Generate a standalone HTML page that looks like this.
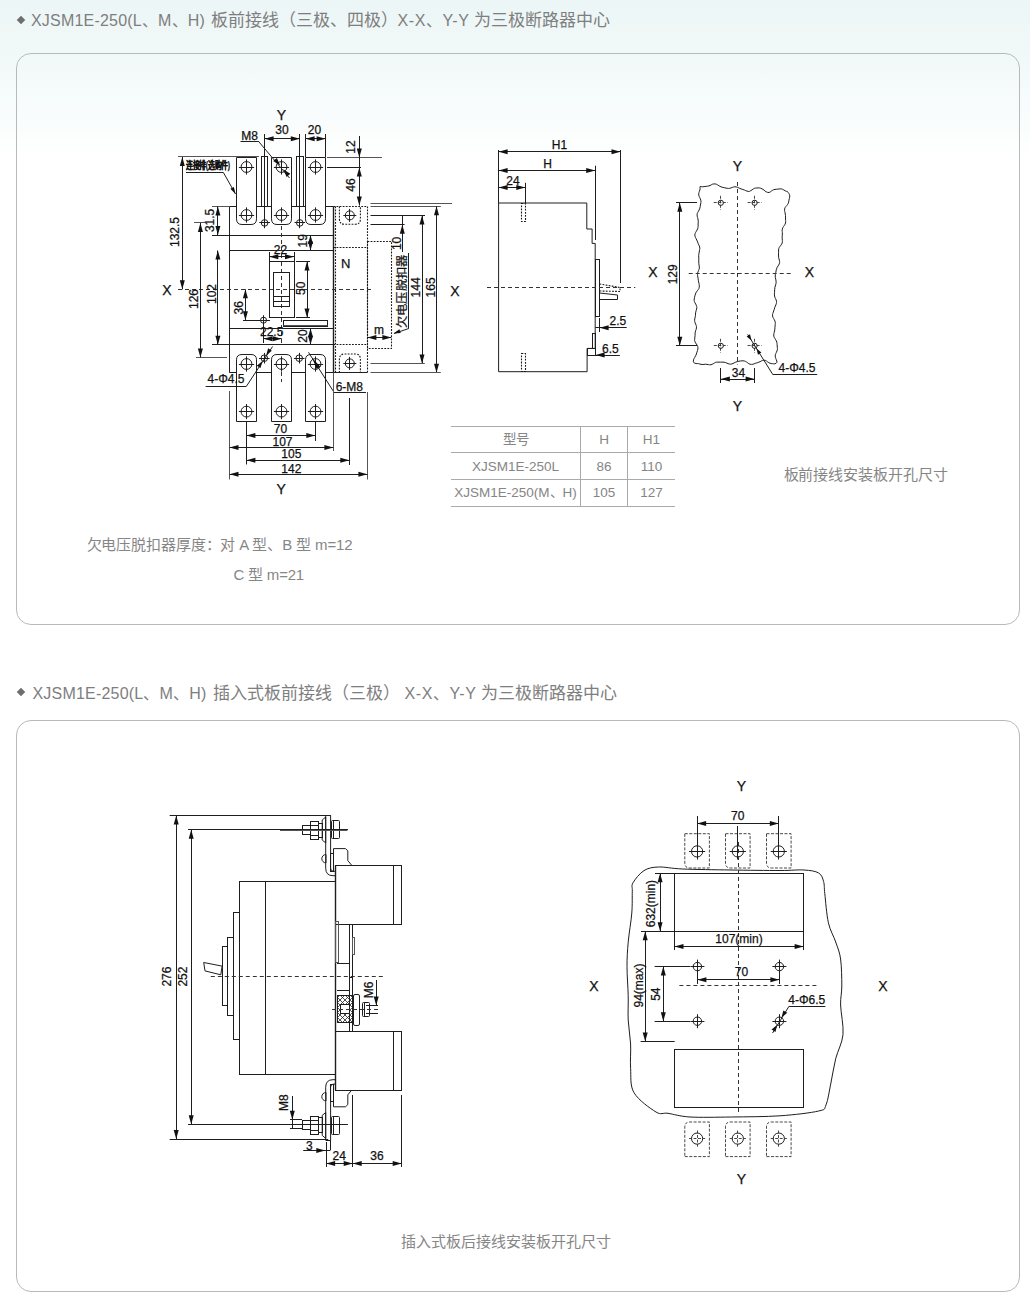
<!DOCTYPE html>
<html lang="zh-CN">
<head>
<meta charset="utf-8">
<title>XJSM1E-250 外形及安装尺寸</title>
<style>
html,body{margin:0;padding:0;}
body{width:1030px;height:1303px;position:relative;overflow:hidden;
  font-family:"Liberation Sans",sans-serif;color:#6a6a6a;
  background:linear-gradient(to bottom,#ecf6f6 0px,#f1f8f8 50px,#f6fbfb 95px,#fbfdfd 130px,#fff 160px);}
.h{position:absolute;left:31px;font-size:16px;line-height:20px;white-space:nowrap;color:#7e7e7e;font-weight:300;}
.h.c{font-size:17px;}
.dia{position:absolute;width:6px;height:6px;background:#6e6e6e;transform:rotate(45deg);}
.box{position:absolute;left:16px;width:1002px;height:570px;border:1px solid #b9b9b9;border-radius:15px;}
.cap{position:absolute;white-space:nowrap;font-size:15px;line-height:18px;color:#868686;font-weight:300;}
table{position:absolute;left:451px;top:425.8px;width:224px;border-collapse:collapse;font-size:13.5px;color:#858585;font-weight:300;}
td{border-top:1.5px solid #aaa;border-bottom:1.5px solid #aaa;height:24.6px;padding:1px 0 0 0;text-align:center;line-height:24px;}
td+td{border-left:1px solid #a9a9a9;}
svg{position:absolute;left:0;top:0;}
</style>
</head>
<body>
<div class="dia" style="left:18px;top:17px"></div>
<div class="h" style="top:11px;left:31px;letter-spacing:0.2px">XJSM1E-250(L、M、H)</div><div class="h c" style="top:11px;left:211px">板前接线（三极、四极）</div><div class="h" style="top:11px;left:397.5px;letter-spacing:0.6px">X-X、Y-Y</div><div class="h c" style="top:11px;left:474px">为三极断路器中心</div>
<div class="box" style="top:53px"></div>

<table>
<tr><td style="width:129px">型号</td><td style="width:46px">H</td><td>H1</td></tr>
<tr><td>XJSM1E-250L</td><td>86</td><td>110</td></tr>
<tr><td>XJSM1E-250(M、H)</td><td>105</td><td>127</td></tr>
</table>
<div class="cap" style="left:783.5px;top:466.2px;letter-spacing:-0.05px">板前接线安装板开孔尺寸</div>
<div class="cap" style="left:86.5px;top:536px;letter-spacing:-0.12px">欠电压脱扣器厚度：对 A 型、B 型 m=12</div>
<div class="cap" style="left:233.5px;top:566px;letter-spacing:-0.2px">C 型 m=21</div>

<div class="dia" style="left:18px;top:689px"></div>
<div class="h" style="top:683.5px;left:32.5px;letter-spacing:0.2px">XJSM1E-250(L、M、H)</div><div class="h c" style="top:683.5px;left:212.5px">插入式板前接线（三极）</div><div class="h" style="top:683.5px;left:404.5px;letter-spacing:0.6px">X-X、Y-Y</div><div class="h c" style="top:683.5px;left:481px">为三极断路器中心</div>
<div class="box" style="top:720px"></div>
<div class="cap" style="left:400.5px;top:1232.8px">插入式板后接线安装板开孔尺寸</div>

<svg width="1030" height="1303" viewBox="0 0 1030 1303">
<style>.s{stroke:#1e1e1e;stroke-width:1;fill:none}.w{fill:#fff}.g{stroke:#555}.b{stroke-width:1.4}.d{stroke:#333;stroke-width:1;fill:none;stroke-dasharray:4 3}.dd{stroke:#333;stroke-width:0.9;fill:none;stroke-dasharray:3 1.5}.dt{stroke:#1a1a1a;stroke-width:1.1;fill:none;stroke-dasharray:1.8 1.3}.a{fill:#111;stroke:none}.t{fill:#111;stroke:#111;stroke-width:0.25;font-family:"Liberation Sans",sans-serif}</style>
<defs><pattern id="hatch" width="5" height="5" patternUnits="userSpaceOnUse"><path d="M0,0 L5,5 M5,0 L0,5" stroke="#222" stroke-width="0.8"/></pattern><clipPath id="hc"><rect x="337.5" y="995.7" width="15.2" height="26.5"/></clipPath></defs>
<text class="t" x="281.4" y="119.64" text-anchor="middle" font-size="14">Y</text>
<text class="t" x="281.2" y="493.54" text-anchor="middle" font-size="14">Y</text>
<text class="t" x="166.8" y="294.54" text-anchor="middle" font-size="14">X</text>
<text class="t" x="455" y="296.24" text-anchor="middle" font-size="14">X</text>
<line class="s g" x1="178" y1="156.5" x2="259" y2="156.5"/>
<line class="s g" x1="327" y1="157.5" x2="382" y2="157.5"/>
<line class="s" x1="327" y1="167.5" x2="361" y2="167.5"/>
<line class="s" x1="229.5" y1="206.5" x2="333.4" y2="206.5"/>
<line class="s" x1="229.5" y1="206.4" x2="229.5" y2="372.7"/>
<line class="s b" x1="333.5" y1="206.4" x2="333.5" y2="372.7"/>
<line class="s g" x1="212" y1="206.5" x2="229.5" y2="206.5"/>
<line class="s" x1="212" y1="235.5" x2="333.4" y2="235.5"/>
<line class="s" x1="229.5" y1="250.5" x2="333.4" y2="250.5"/>
<line class="s" x1="229.5" y1="328.5" x2="333.4" y2="328.5"/>
<line class="s" x1="212" y1="344.5" x2="333.4" y2="344.5"/>
<line class="s" x1="229.5" y1="372.5" x2="333.4" y2="372.5"/>
<line class="dt" x1="333.4" y1="206.5" x2="367.4" y2="206.5"/>
<line class="dt" x1="335.5" y1="206.4" x2="335.5" y2="372.7"/>
<line class="dt" x1="367.5" y1="206.4" x2="367.5" y2="372.7"/>
<line class="dt" x1="333.4" y1="247.5" x2="367.4" y2="247.5"/>
<line class="dt" x1="333.4" y1="344.5" x2="367.4" y2="344.5"/>
<line class="s" x1="333.4" y1="372.5" x2="367.4" y2="372.5"/>
<path class="dt" d="M339.4,206.4 V219 Q339.4,224.3 344.7,224.3 H355.1 Q360.4,224.3 360.4,219 V206.4"/>
<circle class="s" cx="349.8" cy="215.4" r="4.5"/>
<line class="s" x1="343.3" y1="215.5" x2="356.3" y2="215.5"/>
<line class="s" x1="349.5" y1="208.9" x2="349.5" y2="221.9"/>
<path class="dt" d="M339.4,372.7 V359.3 Q339.4,354 344.7,354 H355.1 Q360.4,354 360.4,359.3 V372.7"/>
<circle class="s" cx="349.8" cy="363.4" r="4.5"/>
<line class="s" x1="343.3" y1="363.5" x2="356.3" y2="363.5"/>
<line class="s" x1="349.5" y1="356.9" x2="349.5" y2="369.9"/>
<text class="t" x="345.6" y="267.68" text-anchor="middle" font-size="13">N</text>
<rect class="dt" x="367.5" y="241.5" width="24" height="107"/>
<path class="s w" d="M236.5,157.5 V218.8 Q236.5,224.5 242.0,224.5 H251.0 Q256.5,224.5 256.5,218.8 V157.5 Z"/>
<circle class="s" cx="246.5" cy="167" r="5.4"/>
<line class="s" x1="238.9" y1="167.5" x2="254.1" y2="167.5"/>
<line class="s" x1="246.5" y1="159.4" x2="246.5" y2="174.6"/>
<circle class="s" cx="246.5" cy="215" r="5.4"/>
<line class="s" x1="238.9" y1="215.5" x2="254.1" y2="215.5"/>
<line class="s" x1="246.5" y1="207.4" x2="246.5" y2="222.6"/>
<path class="s w" d="M271.5,157.5 V218.8 Q271.5,224.5 277.0,224.5 H286.0 Q291.5,224.5 291.5,218.8 V157.5 Z"/>
<circle class="s" cx="281.5" cy="167" r="5.4"/>
<line class="s" x1="273.9" y1="167.5" x2="289.1" y2="167.5"/>
<line class="s" x1="281.5" y1="159.4" x2="281.5" y2="174.6"/>
<circle class="s" cx="281.5" cy="215" r="5.4"/>
<line class="s" x1="273.9" y1="215.5" x2="289.1" y2="215.5"/>
<line class="s" x1="281.5" y1="207.4" x2="281.5" y2="222.6"/>
<path class="s w" d="M305.5,157.5 V218.8 Q305.5,224.5 311.0,224.5 H320.0 Q325.5,224.5 325.5,218.8 V157.5 Z"/>
<circle class="s" cx="315.5" cy="167" r="5.4"/>
<line class="s" x1="307.9" y1="167.5" x2="323.1" y2="167.5"/>
<line class="s" x1="315.5" y1="159.4" x2="315.5" y2="174.6"/>
<circle class="s" cx="315.5" cy="215" r="5.4"/>
<line class="s" x1="307.9" y1="215.5" x2="323.1" y2="215.5"/>
<line class="s" x1="315.5" y1="207.4" x2="315.5" y2="222.6"/>
<rect class="s w" x="261.5" y="156.5" width="6" height="50"/>
<line class="s" x1="264.5" y1="136" x2="264.5" y2="206.4"/>
<line class="s" x1="264.5" y1="206.4" x2="264.5" y2="219"/>
<circle class="s" cx="264.6" cy="222.9" r="3.3"/>
<line class="s" x1="259.3" y1="222.5" x2="269.9" y2="222.5"/>
<line class="s" x1="264.5" y1="217.6" x2="264.5" y2="228.2"/>
<rect class="s w" x="296.5" y="156.5" width="7" height="50"/>
<line class="s" x1="299.5" y1="136" x2="299.5" y2="206.4"/>
<line class="s" x1="299.5" y1="206.4" x2="299.5" y2="219"/>
<circle class="s" cx="299.8" cy="222.9" r="3.3"/>
<line class="s" x1="294.5" y1="222.5" x2="305.1" y2="222.5"/>
<line class="s" x1="299.5" y1="217.6" x2="299.5" y2="228.2"/>
<path class="s w" d="M236.5,421.5 V359.8 Q236.5,354.5 242.0,354.5 H251.0 Q256.5,354.5 256.5,359.8 V421.5 Z"/>
<circle class="s" cx="246.5" cy="364" r="5.4"/>
<line class="s" x1="238.9" y1="364.5" x2="254.1" y2="364.5"/>
<line class="s" x1="246.5" y1="356.4" x2="246.5" y2="371.6"/>
<circle class="s" cx="246.5" cy="411.6" r="5.4"/>
<line class="s" x1="238.9" y1="411.5" x2="254.1" y2="411.5"/>
<line class="s" x1="246.5" y1="404" x2="246.5" y2="419.2"/>
<path class="s w" d="M271.5,421.5 V359.8 Q271.5,354.5 277.0,354.5 H286.0 Q291.5,354.5 291.5,359.8 V421.5 Z"/>
<circle class="s" cx="281.5" cy="364" r="5.4"/>
<line class="s" x1="273.9" y1="364.5" x2="289.1" y2="364.5"/>
<line class="s" x1="281.5" y1="356.4" x2="281.5" y2="371.6"/>
<circle class="s" cx="281.5" cy="411.6" r="5.4"/>
<line class="s" x1="273.9" y1="411.5" x2="289.1" y2="411.5"/>
<line class="s" x1="281.5" y1="404" x2="281.5" y2="419.2"/>
<path class="s w" d="M305.5,421.5 V359.8 Q305.5,354.5 311.0,354.5 H320.0 Q325.5,354.5 325.5,359.8 V421.5 Z"/>
<circle class="s" cx="315.5" cy="364" r="5.4"/>
<line class="s" x1="307.9" y1="364.5" x2="323.1" y2="364.5"/>
<line class="s" x1="315.5" y1="356.4" x2="315.5" y2="371.6"/>
<circle class="s" cx="315.5" cy="411.6" r="5.4"/>
<line class="s" x1="307.9" y1="411.5" x2="323.1" y2="411.5"/>
<line class="s" x1="315.5" y1="404" x2="315.5" y2="419.2"/>
<circle class="s" cx="264.3" cy="358.2" r="3.3"/>
<line class="s" x1="259" y1="358.5" x2="269.6" y2="358.5"/>
<line class="s" x1="264.5" y1="352.9" x2="264.5" y2="363.5"/>
<circle class="s" cx="299.2" cy="358.2" r="3.3"/>
<line class="s" x1="293.9" y1="358.5" x2="304.5" y2="358.5"/>
<line class="s" x1="299.5" y1="352.9" x2="299.5" y2="363.5"/>
<line class="d" x1="178" y1="289.5" x2="373" y2="289.5"/>
<line class="d" x1="281.5" y1="226" x2="281.5" y2="262"/>
<line class="d" x1="281.5" y1="262" x2="281.5" y2="345"/>
<line class="d" x1="281.5" y1="372" x2="281.5" y2="382"/>
<rect class="s" x="269.5" y="261.5" width="25" height="56"/>
<rect class="s" x="273.5" y="272.5" width="16" height="34"/>
<line class="s" x1="273.6" y1="296.5" x2="289.7" y2="296.5"/>
<line class="s" x1="273.6" y1="301.5" x2="289.7" y2="301.5"/>
<rect class="s" x="283.5" y="320.5" width="44" height="6"/>
<line class="s g" x1="283.3" y1="325.5" x2="327.4" y2="325.5"/>
<circle class="s" cx="263.5" cy="320.2" r="3"/>
<line class="s" x1="258.5" y1="320.5" x2="268.5" y2="320.5"/>
<line class="s" x1="263.5" y1="315.2" x2="263.5" y2="325.2"/>
<line class="s" x1="182.5" y1="157" x2="182.5" y2="289.3"/>
<polygon class="a" points="182.3,157 184.8,166 179.8,166"/>
<polygon class="a" points="182.3,289.3 179.8,280.3 184.8,280.3"/>
<text class="t" transform="translate(174.8,232) rotate(-90)" x="0" y="4.32" text-anchor="middle" font-size="12">132.5</text>
<line class="s g" x1="194" y1="222.5" x2="205" y2="222.5"/>
<line class="s g" x1="196" y1="357.5" x2="227" y2="357.5"/>
<line class="s" x1="200.5" y1="222.9" x2="200.5" y2="357.5"/>
<polygon class="a" points="200.4,222.9 202.9,231.9 197.9,231.9"/>
<polygon class="a" points="200.4,357.5 197.9,348.5 202.9,348.5"/>
<text class="t" transform="translate(194,299) rotate(-90)" x="0" y="4.32" text-anchor="middle" font-size="12">126</text>
<line class="s" x1="217.5" y1="250.5" x2="217.5" y2="344.7"/>
<polygon class="a" points="217.9,250.5 220.4,259.5 215.4,259.5"/>
<polygon class="a" points="217.9,344.7 215.4,335.7 220.4,335.7"/>
<text class="t" transform="translate(212,294) rotate(-90)" x="0" y="4.32" text-anchor="middle" font-size="12">102</text>
<line class="s" x1="217.5" y1="206.4" x2="217.5" y2="235"/>
<polygon class="a" points="217.9,206.4 220.4,215.4 215.4,215.4"/>
<polygon class="a" points="217.9,235 215.4,226 220.4,226"/>
<text class="t" transform="translate(210,220.4) rotate(-90)" x="0" y="4.32" text-anchor="middle" font-size="12">31.5</text>
<line class="s" x1="245.5" y1="289.3" x2="245.5" y2="320.2"/>
<polygon class="a" points="245.4,289.3 247.9,298.3 242.9,298.3"/>
<polygon class="a" points="245.4,320.2 242.9,311.2 247.9,311.2"/>
<line class="s" x1="243" y1="320.5" x2="270" y2="320.5"/>
<text class="t" transform="translate(239,307.8) rotate(-90)" x="0" y="4.32" text-anchor="middle" font-size="12">36</text>
<line class="s" x1="269.5" y1="252" x2="269.5" y2="261.6"/>
<line class="s" x1="294.5" y1="252" x2="294.5" y2="261.6"/>
<line class="s" x1="269.3" y1="256.5" x2="294" y2="256.5"/>
<polygon class="a" points="269.3,256.7 278.3,254.2 278.3,259.2"/>
<polygon class="a" points="294,256.7 285,259.2 285,254.2"/>
<text class="t" x="280.4" y="253.82" text-anchor="middle" font-size="12">22</text>
<line class="s" x1="296" y1="261.5" x2="310" y2="261.5"/>
<line class="s" x1="296" y1="317.5" x2="310" y2="317.5"/>
<line class="s" x1="307.5" y1="261.6" x2="307.5" y2="317.5"/>
<polygon class="a" points="307,261.6 309.5,270.6 304.5,270.6"/>
<polygon class="a" points="307,317.5 304.5,308.5 309.5,308.5"/>
<text class="t" transform="translate(300.8,288.3) rotate(-90)" x="0" y="4.32" text-anchor="middle" font-size="12">50</text>
<line class="s" x1="310.5" y1="235" x2="310.5" y2="250.5"/>
<polygon class="a" points="310.5,235 313,244 308,244"/>
<polygon class="a" points="310.5,250.5 308,241.5 313,241.5"/>
<text class="t" transform="translate(302.7,240.8) rotate(-90)" x="0" y="4.32" text-anchor="middle" font-size="12">19</text>
<line class="s" x1="310.5" y1="328.2" x2="310.5" y2="344.7"/>
<polygon class="a" points="310.5,328.2 313,337.2 308,337.2"/>
<polygon class="a" points="310.5,344.7 308,335.7 313,335.7"/>
<text class="t" transform="translate(302.7,336) rotate(-90)" x="0" y="4.32" text-anchor="middle" font-size="12">20</text>
<line class="s" x1="263.5" y1="322" x2="263.5" y2="343"/>
<line class="s" x1="263.5" y1="338.5" x2="281.7" y2="338.5"/>
<polygon class="a" points="263.5,338.8 272.5,336.3 272.5,341.3"/>
<polygon class="a" points="281.7,338.8 272.7,341.3 272.7,336.3"/>
<text class="t" x="271.7" y="336.32" text-anchor="middle" font-size="12">22.5</text>
<line class="s" x1="264.5" y1="134" x2="264.5" y2="157"/>
<line class="s" x1="299.5" y1="134" x2="299.5" y2="157"/>
<line class="s" x1="264.6" y1="138.5" x2="299.8" y2="138.5"/>
<polygon class="a" points="264.6,138.8 273.6,136.3 273.6,141.3"/>
<polygon class="a" points="299.8,138.8 290.8,141.3 290.8,136.3"/>
<text class="t" x="282" y="134.32" text-anchor="middle" font-size="12">30</text>
<line class="s" x1="305.5" y1="134" x2="305.5" y2="157"/>
<line class="s" x1="325.5" y1="134" x2="325.5" y2="157"/>
<line class="s" x1="305.6" y1="138.5" x2="325.6" y2="138.5"/>
<polygon class="a" points="305.6,138.8 314.6,136.3 314.6,141.3"/>
<polygon class="a" points="325.6,138.8 316.6,141.3 316.6,136.3"/>
<text class="t" x="314.4" y="134.32" text-anchor="middle" font-size="12">20</text>
<text class="t" x="249.5" y="140.32" text-anchor="middle" font-size="12">M8</text>
<line class="s" x1="240.5" y1="141.5" x2="258.2" y2="141.5"/>
<text class="t" x="208" y="168.58" text-anchor="middle" font-size="10.5" font-weight="bold" textLength="44" lengthAdjust="spacingAndGlyphs">连接排(选购件)</text>
<line class="s" x1="186" y1="172.5" x2="223.4" y2="172.5"/>
<line class="s" x1="223.4" y1="172.5" x2="235.5" y2="194"/>
<polygon class="a" points="235.5,194 230.36,188.85 233.86,186.91"/>
<line class="s" x1="359.5" y1="136" x2="359.5" y2="167.5"/>
<polygon class="a" points="359.3,157.5 356.8,148.5 361.8,148.5"/>
<text class="t" transform="translate(351,147) rotate(-90)" x="0" y="4.32" text-anchor="middle" font-size="12">12</text>
<line class="s" x1="359.5" y1="167.5" x2="359.5" y2="205.5"/>
<polygon class="a" points="359.3,167.5 361.8,176.5 356.8,176.5"/>
<polygon class="a" points="359.3,205.5 356.8,196.5 361.8,196.5"/>
<text class="t" transform="translate(351,185) rotate(-90)" x="0" y="4.32" text-anchor="middle" font-size="12">46</text>
<line class="s g" x1="370.5" y1="203.5" x2="452" y2="203.5"/>
<line class="s g" x1="370.5" y1="206.5" x2="440.8" y2="206.5"/>
<line class="s" x1="370.5" y1="215.5" x2="425" y2="215.5"/>
<line class="s" x1="370.5" y1="224.5" x2="404.6" y2="224.5"/>
<line class="s" x1="402.5" y1="224.3" x2="402.5" y2="252"/>
<line class="s" x1="402.5" y1="215.4" x2="402.5" y2="224.3"/>
<polygon class="a" points="402.3,224.8 404.8,233.8 399.8,233.8"/>
<text class="t" transform="translate(396.9,243.4) rotate(-90)" x="0" y="4.32" text-anchor="middle" font-size="12">10</text>
<line class="s" x1="422.5" y1="215.4" x2="422.5" y2="363.4"/>
<polygon class="a" points="422,215.4 424.5,224.4 419.5,224.4"/>
<polygon class="a" points="422,363.4 419.5,354.4 424.5,354.4"/>
<text class="t" transform="translate(415.5,287.4) rotate(-90)" x="0" y="4.32" text-anchor="middle" font-size="12">144</text>
<line class="s" x1="436.5" y1="206.2" x2="436.5" y2="372.8"/>
<polygon class="a" points="436.5,206.2 439,215.2 434,215.2"/>
<polygon class="a" points="436.5,372.8 434,363.8 439,363.8"/>
<text class="t" transform="translate(431,287.4) rotate(-90)" x="0" y="4.32" text-anchor="middle" font-size="12">165</text>
<line class="s g" x1="370.5" y1="363.5" x2="424.8" y2="363.5"/>
<line class="s g" x1="370.5" y1="372.5" x2="440.8" y2="372.5"/>
<line class="s" x1="367.4" y1="337.5" x2="391.4" y2="337.5"/>
<polygon class="a" points="367.4,337.5 376.4,335 376.4,340"/>
<polygon class="a" points="391.4,337.5 382.4,340 382.4,335"/>
<text class="t" x="379" y="334.32" text-anchor="middle" font-size="12">m</text>
<text class="t" transform="translate(402.3,291.2) rotate(-90)" x="0" y="3.96" text-anchor="middle" font-size="11" textLength="74" lengthAdjust="spacingAndGlyphs">欠电压脱扣器</text>
<line class="s" x1="408.5" y1="253" x2="408.5" y2="328.5"/>
<line class="s" x1="408.8" y1="328.5" x2="394" y2="333.5"/>
<polygon class="a" points="393.5,333.6 399.39,329.33 400.76,333.09"/>
<text class="t" x="226" y="383.12" text-anchor="middle" font-size="12">4-Φ4.5</text>
<line class="s" x1="205.6" y1="386.5" x2="246.4" y2="386.5"/>
<line class="s" x1="246.4" y1="386.3" x2="272.6" y2="346.5"/>
<polygon class="a" points="266.1,355.4 268.12,348.35 271.79,350.77"/>
<polygon class="a" points="262.5,361 260.48,368.05 256.81,365.63"/>
<text class="t" x="335.7" y="390.92" text-anchor="start" font-size="12">6-M8</text>
<line class="s" x1="334" y1="392.5" x2="366" y2="392.5"/>
<line class="s" x1="334" y1="392.3" x2="308.5" y2="352.3"/>
<polygon class="a" points="312.5,358.5 320.29,366.57 316.59,368.95"/>
<line class="s g" x1="229.5" y1="391" x2="229.5" y2="479.5"/>
<line class="s" x1="246.5" y1="421.3" x2="246.5" y2="464.5"/>
<line class="s" x1="315.5" y1="421.3" x2="315.5" y2="441"/>
<line class="s g" x1="333.5" y1="372.7" x2="333.5" y2="451"/>
<line class="s" x1="349.5" y1="398" x2="349.5" y2="465"/>
<line class="s g" x1="367.5" y1="392" x2="367.5" y2="479.5"/>
<line class="s" x1="246.4" y1="435.5" x2="315.3" y2="435.5"/>
<polygon class="a" points="246.4,435.6 255.4,433.1 255.4,438.1"/>
<polygon class="a" points="315.3,435.6 306.3,438.1 306.3,433.1"/>
<text class="t" x="280.4" y="433.32" text-anchor="middle" font-size="12">70</text>
<line class="s" x1="229.5" y1="447.5" x2="333.4" y2="447.5"/>
<polygon class="a" points="229.5,447.6 238.5,445.1 238.5,450.1"/>
<polygon class="a" points="333.4,447.6 324.4,450.1 324.4,445.1"/>
<text class="t" x="282.5" y="446.02" text-anchor="middle" font-size="12">107</text>
<line class="s" x1="246.4" y1="460.5" x2="349.3" y2="460.5"/>
<polygon class="a" points="246.4,460.2 255.4,457.7 255.4,462.7"/>
<polygon class="a" points="349.3,460.2 340.3,462.7 340.3,457.7"/>
<text class="t" x="291.3" y="458.32" text-anchor="middle" font-size="12">105</text>
<line class="s" x1="229.5" y1="474.5" x2="367.4" y2="474.5"/>
<polygon class="a" points="229.5,474.2 238.5,471.7 238.5,476.7"/>
<polygon class="a" points="367.4,474.2 358.4,476.7 358.4,471.7"/>
<text class="t" x="291.3" y="472.82" text-anchor="middle" font-size="12">142</text>
<line class="s" x1="258.2" y1="141" x2="289.5" y2="178"/>
<polygon class="a" points="280.2,165.6 273.21,161.03 276.88,157.93"/>
<polygon class="a" points="283.3,169.3 290.29,173.87 286.62,176.97"/>
<path class="s" d="M498.6,203 H586.8 V229 H592.1 V243.4 H595.2 V348.4 H587.1 V371.7 H498.6 Z"/>
<rect class="s" x="587.5" y="348.5" width="8" height="7"/>
<rect class="s" x="592.5" y="333.5" width="3" height="15"/>
<rect class="s" x="595.5" y="259.5" width="4" height="57"/>
<path class="dt" d="M599.5,284 L620,287.5 L620,291.5 L599.5,291"/>
<path class="s" d="M599.5,293 L617.5,295 L617.5,299.5 L599.5,299.5"/>
<rect class="dt" x="521.5" y="203.5" width="4" height="18"/>
<rect class="dt" x="521.5" y="353.5" width="4" height="18"/>
<line class="d" x1="487" y1="287.5" x2="635.3" y2="287.5"/>
<line class="s" x1="498.5" y1="150" x2="498.5" y2="203"/>
<line class="s" x1="620.5" y1="150" x2="620.5" y2="283"/>
<line class="s" x1="498.6" y1="151.5" x2="620.5" y2="151.5"/>
<polygon class="a" points="498.6,151.7 507.6,149.2 507.6,154.2"/>
<polygon class="a" points="620.5,151.7 611.5,154.2 611.5,149.2"/>
<text class="t" x="559.5" y="149.32" text-anchor="middle" font-size="12">H1</text>
<line class="s" x1="595.5" y1="165.7" x2="595.5" y2="240"/>
<line class="s" x1="498.6" y1="170.5" x2="595.2" y2="170.5"/>
<polygon class="a" points="498.6,170.4 507.6,167.9 507.6,172.9"/>
<polygon class="a" points="595.2,170.4 586.2,172.9 586.2,167.9"/>
<text class="t" x="547.5" y="167.72" text-anchor="middle" font-size="12">H</text>
<line class="s" x1="525.5" y1="182.8" x2="525.5" y2="203"/>
<line class="s" x1="498.6" y1="187.5" x2="525.3" y2="187.5"/>
<polygon class="a" points="498.6,187.5 507.6,185 507.6,190"/>
<polygon class="a" points="525.3,187.5 516.3,190 516.3,185"/>
<text class="t" x="513" y="184.82" text-anchor="middle" font-size="12">24</text>
<line class="s" x1="599.5" y1="318" x2="599.5" y2="332"/>
<line class="s" x1="595.2" y1="327.5" x2="626.7" y2="327.5"/>
<polygon class="a" points="599.6,327.8 608.6,325.3 608.6,330.3"/>
<text class="t" x="617.9" y="325.32" text-anchor="middle" font-size="12">2.5</text>
<line class="s" x1="595.2" y1="355.5" x2="619.8" y2="355.5"/>
<polygon class="a" points="595.6,355.1 604.6,352.6 604.6,357.6"/>
<text class="t" x="610.4" y="352.72" text-anchor="middle" font-size="12">6.5</text>
<text class="t" x="737.4" y="170.54" text-anchor="middle" font-size="14">Y</text>
<text class="t" x="737.4" y="411.04" text-anchor="middle" font-size="14">Y</text>
<text class="t" x="652.8" y="277.34" text-anchor="middle" font-size="14">X</text>
<text class="t" x="809.5" y="277.34" text-anchor="middle" font-size="14">X</text>
<path class="s" d="M700.04,186.62 C700.45,186.29 701.75,186.85 702.59,186.83 C703.43,186.8 704.25,186.58 705.08,186.47 C705.91,186.37 706.75,186.34 707.57,186.19 C708.4,186.04 709.22,185.9 710.03,185.58 C710.83,185.25 711.53,184.5 712.39,184.22 C713.25,183.94 714.34,183.81 715.2,183.91 C716.06,184.01 716.8,184.44 717.57,184.84 C718.35,185.24 719.07,185.91 719.84,186.31 C720.61,186.72 721.39,187.04 722.2,187.28 C723.02,187.53 723.89,187.61 724.72,187.79 C725.56,187.96 726.36,188.25 727.19,188.34 C728.02,188.43 728.86,188.49 729.72,188.33 C730.57,188.18 731.46,187.68 732.33,187.42 C733.19,187.15 734.07,186.77 734.91,186.75 C735.75,186.73 736.57,186.99 737.38,187.28 C738.2,187.56 739,188.12 739.8,188.45 C740.61,188.79 741.41,189 742.21,189.27 C743.01,189.55 743.82,189.8 744.61,190.1 C745.41,190.41 746.18,190.9 746.99,191.11 C747.8,191.32 748.64,191.6 749.49,191.38 C750.34,191.15 751.28,190.27 752.09,189.77 C752.9,189.26 753.57,188.64 754.36,188.34 C755.15,188.04 756.01,188.04 756.85,187.97 C757.69,187.91 758.55,187.82 759.4,187.95 C760.26,188.08 761.18,188.36 761.96,188.73 C762.74,189.1 763.4,189.65 764.1,190.17 C764.8,190.69 765.31,191.45 766.16,191.84 C767,192.23 768.27,192.65 769.15,192.5 C770.04,192.36 770.68,191.46 771.45,190.99 C772.22,190.52 772.98,189.98 773.78,189.69 C774.58,189.4 775.43,189.37 776.26,189.26 C777.09,189.15 777.9,189.09 778.76,189.03 C779.62,188.97 780.59,188.74 781.43,188.9 C782.27,189.06 783.03,189.56 783.82,189.97 C784.61,190.38 785.61,191.11 786.16,191.34 C786.72,191.58 786.71,191.04 787.17,191.4 C787.63,191.75 788.47,192.71 788.91,193.46 C789.35,194.22 789.73,195.09 789.8,195.91 C789.87,196.73 789.5,197.56 789.34,198.38 C789.18,199.2 789.03,200.03 788.85,200.85 C788.67,201.66 788.59,202.51 788.25,203.29 C787.91,204.06 787.36,204.78 786.83,205.51 C786.3,206.23 785.43,206.84 785.05,207.64 C784.67,208.43 784.55,209.41 784.55,210.28 C784.56,211.14 784.94,212 785.09,212.86 C785.25,213.71 785.42,214.57 785.49,215.42 C785.56,216.27 785.49,217.1 785.51,217.95 C785.54,218.8 785.64,219.67 785.64,220.52 C785.64,221.36 785.74,222.22 785.52,223.03 C785.31,223.85 784.81,224.62 784.35,225.4 C783.9,226.19 783.15,226.93 782.79,227.72 C782.42,228.52 782.22,229.33 782.15,230.17 C782.08,231 782.35,231.89 782.37,232.73 C782.4,233.58 782.35,234.4 782.31,235.24 C782.27,236.08 782.14,236.91 782.15,237.77 C782.15,238.63 782.34,239.52 782.35,240.38 C782.36,241.24 782.46,242.11 782.22,242.92 C781.98,243.72 781.42,244.45 780.92,245.21 C780.42,245.97 779.6,246.69 779.21,247.48 C778.82,248.26 778.67,249.1 778.57,249.93 C778.46,250.76 778.59,251.62 778.59,252.46 C778.58,253.3 778.5,254.13 778.51,254.98 C778.52,255.82 778.5,256.66 778.64,257.52 C778.77,258.37 779.16,259.26 779.32,260.12 C779.48,260.98 779.72,261.85 779.61,262.68 C779.49,263.51 779.04,264.3 778.63,265.09 C778.22,265.88 777.53,266.63 777.14,267.42 C776.75,268.21 776.5,269 776.28,269.81 C776.07,270.62 776,271.46 775.84,272.28 C775.68,273.1 775.42,273.91 775.32,274.74 C775.22,275.57 775.16,276.41 775.26,277.28 C775.36,278.15 775.77,279.08 775.92,279.96 C776.07,280.84 776.19,281.76 776.15,282.55 C776.11,283.35 775.89,283.95 775.69,284.74 C775.48,285.54 775.07,286.46 774.9,287.31 C774.73,288.15 774.71,288.99 774.65,289.84 C774.59,290.68 774.6,291.52 774.55,292.36 C774.5,293.2 774.31,294.05 774.36,294.88 C774.42,295.72 774.59,296.53 774.89,297.37 C775.18,298.2 775.85,299.04 776.13,299.9 C776.41,300.75 776.62,301.65 776.57,302.49 C776.52,303.33 776.13,304.12 775.84,304.92 C775.55,305.73 775.09,306.51 774.81,307.31 C774.52,308.12 774.36,308.94 774.11,309.75 C773.85,310.56 773.54,311.33 773.27,312.17 C773.01,313.01 772.57,313.96 772.52,314.82 C772.47,315.67 772.65,316.49 772.95,317.31 C773.25,318.13 773.94,318.93 774.32,319.75 C774.71,320.57 775.13,321.38 775.28,322.21 C775.42,323.04 775.26,323.89 775.21,324.73 C775.15,325.57 775,326.42 774.93,327.26 C774.86,328.1 774.91,328.93 774.79,329.78 C774.67,330.62 774.4,331.46 774.22,332.32 C774.05,333.18 773.72,334.1 773.72,334.95 C773.72,335.8 773.89,336.62 774.22,337.42 C774.56,338.22 775.27,338.97 775.7,339.76 C776.13,340.55 776.57,341.34 776.8,342.15 C777.03,342.97 777.01,343.81 777.1,344.64 C777.19,345.48 777.28,346.29 777.32,347.15 C777.36,348 777.5,348.9 777.35,349.75 C777.2,350.6 776.76,351.41 776.43,352.24 C776.1,353.06 775.53,353.89 775.35,354.72 C775.17,355.55 775.2,356.39 775.36,357.23 C775.52,358.07 776.05,358.92 776.31,359.77 C776.58,360.61 777.18,361.61 776.95,362.29 C776.72,362.97 775.68,363.62 774.92,363.84 C774.16,364.07 773.24,363.76 772.4,363.66 C771.57,363.55 770.73,363.52 769.93,363.23 C769.13,362.94 768.38,362.37 767.61,361.9 C766.84,361.42 766.17,360.61 765.32,360.37 C764.46,360.13 763.32,360.24 762.45,360.46 C761.58,360.68 760.89,361.3 760.1,361.66 C759.31,362.02 758.52,362.34 757.71,362.62 C756.91,362.9 756.09,363.06 755.29,363.33 C754.48,363.6 753.76,364.1 752.89,364.26 C752.02,364.41 750.93,364.49 750.07,364.26 C749.22,364.04 748.52,363.4 747.75,362.92 C746.98,362.43 746.25,361.71 745.46,361.36 C744.67,361 743.84,360.87 743,360.8 C742.17,360.74 741.3,360.84 740.44,360.95 C739.57,361.06 738.67,361.23 737.83,361.45 C736.99,361.67 736.21,361.94 735.42,362.27 C734.63,362.61 733.87,363.15 733.07,363.47 C732.27,363.78 731.48,364.12 730.64,364.16 C729.79,364.19 728.87,363.92 728.01,363.65 C727.16,363.38 726.35,362.8 725.52,362.54 C724.69,362.28 723.87,362.16 723.03,362.09 C722.2,362.03 721.35,362.15 720.51,362.16 C719.67,362.16 718.84,362.07 718,362.11 C717.15,362.15 716.25,362.13 715.45,362.4 C714.66,362.68 713.99,363.35 713.23,363.74 C712.47,364.14 711.72,364.63 710.9,364.78 C710.07,364.92 709.15,364.7 708.27,364.6 C707.38,364.51 706.45,364.22 705.58,364.2 C704.71,364.19 703.83,364.48 703.07,364.51 C702.31,364.54 701.76,364.52 701.02,364.38 C700.28,364.23 699.45,363.79 698.62,363.64 C697.79,363.5 696.89,363.7 696.06,363.51 C695.23,363.31 694.04,363.08 693.62,362.48 C693.2,361.88 693.36,360.73 693.53,359.91 C693.69,359.09 694.23,358.34 694.63,357.56 C695.03,356.78 695.58,356.03 695.93,355.25 C696.28,354.46 696.47,353.65 696.73,352.84 C696.99,352.04 697.3,351.3 697.51,350.43 C697.71,349.57 698.03,348.54 697.98,347.67 C697.92,346.81 697.56,346.04 697.16,345.25 C696.76,344.45 696.01,343.71 695.59,342.92 C695.17,342.13 694.77,341.33 694.63,340.51 C694.5,339.68 694.7,338.81 694.78,337.96 C694.85,337.11 695.02,336.24 695.08,335.39 C695.13,334.54 694.99,333.69 695.1,332.86 C695.2,332.03 695.5,331.24 695.73,330.42 C695.97,329.6 696.4,328.79 696.48,327.95 C696.56,327.12 696.43,326.27 696.2,325.42 C695.98,324.57 695.38,323.69 695.11,322.83 C694.84,321.97 694.61,321.12 694.6,320.28 C694.58,319.44 694.87,318.61 695.02,317.79 C695.16,316.98 695.36,316.2 695.46,315.38 C695.55,314.56 695.45,313.7 695.58,312.85 C695.71,312.01 696,311.15 696.21,310.3 C696.42,309.45 696.82,308.58 696.84,307.74 C696.85,306.9 696.63,306.08 696.32,305.26 C696.01,304.44 695.34,303.65 694.98,302.83 C694.62,302.02 694.23,301.23 694.15,300.37 C694.06,299.51 694.3,298.52 694.46,297.66 C694.62,296.8 694.85,296.03 695.09,295.23 C695.33,294.43 695.5,293.61 695.89,292.84 C696.28,292.08 696.91,291.37 697.42,290.63 C697.93,289.9 698.63,289.21 698.95,288.43 C699.27,287.64 699.33,286.8 699.33,285.93 C699.33,285.07 699.1,284.11 698.94,283.25 C698.78,282.39 698.53,281.6 698.39,280.77 C698.24,279.94 698.19,279.11 698.06,278.28 C697.94,277.45 697.71,276.62 697.62,275.79 C697.54,274.95 697.43,274.12 697.57,273.28 C697.71,272.43 698.17,271.56 698.47,270.71 C698.77,269.85 699.25,268.94 699.37,268.14 C699.49,267.34 699.26,266.71 699.17,265.9 C699.08,265.09 698.88,264.15 698.81,263.29 C698.74,262.43 698.75,261.59 698.75,260.74 C698.75,259.89 698.83,259.06 698.82,258.2 C698.8,257.35 698.63,256.4 698.66,255.63 C698.68,254.87 698.83,254.39 698.95,253.61 C699.08,252.82 699.24,251.81 699.39,250.92 C699.54,250.02 699.87,249.07 699.85,248.22 C699.83,247.36 699.55,246.57 699.27,245.77 C698.99,244.98 698.5,244.24 698.17,243.46 C697.83,242.68 697.59,241.88 697.25,241.1 C696.92,240.32 696.55,239.61 696.17,238.78 C695.78,237.96 695.15,237 694.96,236.15 C694.78,235.29 694.84,234.45 695.07,233.63 C695.3,232.82 695.91,232.04 696.35,231.25 C696.78,230.45 697.37,229.67 697.66,228.86 C697.95,228.05 698,227.22 698.08,226.38 C698.15,225.55 698.1,224.7 698.13,223.86 C698.16,223.03 698.31,222.2 698.28,221.36 C698.25,220.51 698.13,219.66 697.95,218.8 C697.77,217.93 697.32,217.03 697.2,216.17 C697.08,215.31 697.01,214.46 697.22,213.64 C697.42,212.82 698.01,212.06 698.42,211.26 C698.83,210.47 699.37,209.7 699.67,208.89 C699.98,208.09 700.07,207.26 700.23,206.43 C700.39,205.61 700.51,204.8 700.64,203.96 C700.77,203.11 701.05,202.21 701,201.35 C700.95,200.5 700.65,199.68 700.34,198.85 C700.02,198.01 699.39,197.18 699.11,196.35 C698.84,195.51 698.64,194.68 698.68,193.84 C698.73,193 699.15,192.16 699.39,191.32 C699.64,190.49 700.04,189.59 700.14,188.81 C700.25,188.02 699.63,186.95 700.04,186.62Z"/>
<line class="d" x1="737.5" y1="182" x2="737.5" y2="364.5"/>
<line class="d" x1="688.7" y1="273.5" x2="790.8" y2="273.5"/>
<circle class="s" cx="720.8" cy="202.8" r="2.6"/>
<line class="dd" x1="713.8" y1="202.5" x2="727.8" y2="202.5"/>
<line class="dd" x1="720.5" y1="195.8" x2="720.5" y2="209.8"/>
<circle class="s" cx="754.6" cy="202.8" r="2.6"/>
<line class="dd" x1="747.6" y1="202.5" x2="761.6" y2="202.5"/>
<line class="dd" x1="754.5" y1="195.8" x2="754.5" y2="209.8"/>
<circle class="s" cx="720.8" cy="345.8" r="2.6"/>
<line class="dd" x1="713.8" y1="345.5" x2="727.8" y2="345.5"/>
<line class="dd" x1="720.5" y1="338.8" x2="720.5" y2="352.8"/>
<circle class="s" cx="754.6" cy="345.8" r="2.6"/>
<line class="dd" x1="747.6" y1="345.5" x2="761.6" y2="345.5"/>
<line class="dd" x1="754.5" y1="338.8" x2="754.5" y2="352.8"/>
<line class="s" x1="676" y1="202.5" x2="697" y2="202.5"/>
<line class="s" x1="676" y1="345.5" x2="697" y2="345.5"/>
<line class="s" x1="679.5" y1="202.8" x2="679.5" y2="345.8"/>
<polygon class="a" points="679.8,202.8 682.3,211.8 677.3,211.8"/>
<polygon class="a" points="679.8,345.8 677.3,336.8 682.3,336.8"/>
<text class="t" transform="translate(673,274.3) rotate(-90)" x="0" y="4.32" text-anchor="middle" font-size="12">129</text>
<line class="s" x1="720.5" y1="368" x2="720.5" y2="383"/>
<line class="s" x1="754.5" y1="368" x2="754.5" y2="383"/>
<line class="s" x1="720.8" y1="379.5" x2="754.6" y2="379.5"/>
<polygon class="a" points="720.8,379 729.8,376.5 729.8,381.5"/>
<polygon class="a" points="754.6,379 745.6,381.5 745.6,376.5"/>
<text class="t" x="738.4" y="377.12" text-anchor="middle" font-size="12">34</text>
<text class="t" x="797" y="371.92" text-anchor="middle" font-size="12">4-Φ4.5</text>
<line class="s" x1="772.6" y1="374.5" x2="817.2" y2="374.5"/>
<line class="s" x1="772.6" y1="374.2" x2="747.7" y2="334.4"/>
<polygon class="a" points="756.5,348.5 761.38,352.53 757.98,354.65"/>
<polygon class="a" points="751.5,340.5 746.62,336.47 750.02,334.35"/>
<text class="t" transform="translate(167,976.6) rotate(-90)" x="0" y="4.32" text-anchor="middle" font-size="12">276</text>
<text class="t" transform="translate(182.8,976.6) rotate(-90)" x="0" y="4.32" text-anchor="middle" font-size="12">252</text>
<line class="s" x1="169.7" y1="815.5" x2="328.5" y2="815.5"/>
<line class="s" x1="188" y1="829.5" x2="347.9" y2="829.5"/>
<line class="s" x1="169.7" y1="1139.5" x2="328.2" y2="1139.5"/>
<line class="s" x1="188" y1="1124.5" x2="347.9" y2="1124.5"/>
<line class="s" x1="176.5" y1="815.4" x2="176.5" y2="1139"/>
<polygon class="a" points="176.2,815.4 178.7,824.4 173.7,824.4"/>
<polygon class="a" points="176.2,1139 173.7,1130 178.7,1130"/>
<line class="s" x1="191.5" y1="829.8" x2="191.5" y2="1124.2"/>
<polygon class="a" points="191.2,829.8 193.7,838.8 188.7,838.8"/>
<polygon class="a" points="191.2,1124.2 188.7,1115.2 193.7,1115.2"/>
<rect class="s" x="239.5" y="881.5" width="96" height="193"/>
<line class="s" x1="265.5" y1="881.2" x2="265.5" y2="1074"/>
<line class="s b" x1="335.5" y1="865.4" x2="335.5" y2="1090.3"/>
<rect class="s" x="233.5" y="912.5" width="6" height="127"/>
<rect class="s" x="227.5" y="937.5" width="6" height="78"/>
<rect class="s" x="222.5" y="946.5" width="5" height="59"/>
<polygon class="s" points="203.7,962.5 222.1,966.1 220.8,974.8 205,970.9"/>
<line class="d" x1="210.8" y1="976.5" x2="384" y2="976.5"/>
<rect class="s" x="335.5" y="865.5" width="66" height="59"/>
<line class="s" x1="393.5" y1="865.4" x2="393.5" y2="924.3"/>
<path class="s" d="M325.7,815.1 V868.2 Q325.7,875.7 333,875.7 H335.7 M330.6,815.1 V868.2 Q330.6,871.3 333.5,871.3 H335.7"/>
<line class="s" x1="325.7" y1="815.5" x2="330.6" y2="815.5"/>
<path class="s" d="M322.2,820 L325.7,817 V842.9 L322.2,840 Z"/>
<rect class="s" x="318.5" y="823.5" width="4" height="14"/>
<rect class="s" x="310.5" y="821.5" width="8" height="18"/>
<line class="s" x1="310" y1="825.5" x2="318.8" y2="825.5"/>
<line class="s" x1="310" y1="835.5" x2="318.8" y2="835.5"/>
<rect class="s" x="302.5" y="825.5" width="8" height="9"/>
<rect class="s" x="331.5" y="820.5" width="8" height="18" rx="1"/>
<line class="s" x1="333.5" y1="820.8" x2="333.5" y2="838.5"/>
<path class="s" d="M326,854.5 A4.2,4.2 0 0 0 326,862.9 Z"/>
<polyline class="s" points="333.5,870.7 333.5,848.6 345.5,848.6 347.8,850.8 347.8,860.6 351.8,865.4"/>
<rect class="s" x="330.5" y="853.5" width="3" height="18"/>
<rect class="s" x="349.5" y="924.5" width="3" height="53"/>
<rect class="s" x="335.5" y="1031.5" width="66" height="59"/>
<line class="s" x1="393.5" y1="1090" x2="393.5" y2="1031.1"/>
<path class="s" d="M325.7,1140.3 V1087.2 Q325.7,1079.7 333,1079.7 H335.7 M330.6,1140.3 V1087.2 Q330.6,1084.1 333.5,1084.1 H335.7"/>
<line class="s" x1="325.7" y1="1140.5" x2="330.6" y2="1140.5"/>
<path class="s" d="M322.2,1135.4 L325.7,1138.4 V1112.5 L322.2,1115.4 Z"/>
<rect class="s" x="318.5" y="1117.5" width="4" height="15"/>
<rect class="s" x="310.5" y="1116.5" width="8" height="18"/>
<line class="s" x1="310" y1="1130.5" x2="318.8" y2="1130.5"/>
<line class="s" x1="310" y1="1120.5" x2="318.8" y2="1120.5"/>
<rect class="s" x="302.5" y="1120.5" width="8" height="9"/>
<rect class="s" x="331.5" y="1116.5" width="8" height="18" rx="1"/>
<line class="s" x1="333.5" y1="1134.6" x2="333.5" y2="1116.9"/>
<path class="s" d="M326,1100.9 A4.2,4.2 0 0 1 326,1092.5 Z"/>
<polyline class="s" points="333.5,1084.7 333.5,1106.8 345.5,1106.8 347.8,1104.6 347.8,1094.8 351.8,1090"/>
<rect class="s" x="330.5" y="1084.5" width="3" height="17"/>
<rect class="s" x="349.5" y="977.5" width="3" height="54"/>
<line class="s g" x1="280" y1="830.5" x2="347.4" y2="830.5"/>
<rect class="s g" x="335.5" y="921.5" width="3" height="41"/>
<line class="s" x1="337" y1="963.5" x2="349.6" y2="963.5"/>
<line class="s" x1="337" y1="990.5" x2="349.6" y2="990.5"/>
<rect class="s g" x="352.5" y="937.5" width="2" height="17"/>
<g clip-path="url(#hc)"><rect x="337.5" y="995.7" width="15.2" height="26.5" fill="url(#hatch)"/></g>
<rect class="s" x="337.5" y="995.5" width="15" height="27"/>
<rect class="s w" x="340.5" y="1004.5" width="9" height="9"/>
<rect class="s" x="353.5" y="994.5" width="6" height="31" rx="1.5"/>
<rect class="s" x="362.5" y="1002.5" width="7" height="14" rx="1"/>
<line class="s" x1="364.5" y1="1002.3" x2="364.5" y2="1016.6"/>
<line class="d" x1="332" y1="1009.5" x2="378" y2="1009.5"/>
<line class="s" x1="366" y1="1005.5" x2="378" y2="1005.5"/>
<line class="s" x1="366" y1="1013.5" x2="378" y2="1013.5"/>
<line class="s" x1="376.5" y1="980" x2="376.5" y2="1005.5"/>
<polygon class="a" points="376.2,1005.5 373.7,996.5 378.7,996.5"/>
<text class="t" transform="translate(368.9,990) rotate(-90)" x="0" y="4.32" text-anchor="middle" font-size="12">M6</text>
<line class="s" x1="290" y1="1119.5" x2="302" y2="1119.5"/>
<line class="s" x1="290" y1="1128.5" x2="302" y2="1128.5"/>
<line class="s" x1="292.5" y1="1096" x2="292.5" y2="1128.1"/>
<polygon class="a" points="292.3,1119.8 289.8,1110.8 294.8,1110.8"/>
<text class="t" transform="translate(283.8,1102.6) rotate(-90)" x="0" y="4.32" text-anchor="middle" font-size="12">M8</text>
<text class="t" x="309.3" y="1149.92" text-anchor="middle" font-size="12">3</text>
<line class="s" x1="303.2" y1="1150.5" x2="330.1" y2="1150.5"/>
<polygon class="a" points="325.3,1150.4 316.3,1152.9 316.3,1147.9"/>
<line class="s" x1="330.5" y1="1140" x2="330.5" y2="1150.4"/>
<line class="s" x1="326.5" y1="1142" x2="326.5" y2="1167"/>
<line class="s" x1="352.5" y1="1095" x2="352.5" y2="1167"/>
<line class="s" x1="401.5" y1="1095" x2="401.5" y2="1167"/>
<line class="s" x1="326.1" y1="1163.5" x2="352.7" y2="1163.5"/>
<polygon class="a" points="326.1,1163.5 335.1,1161 335.1,1166"/>
<polygon class="a" points="352.7,1163.5 343.7,1166 343.7,1161"/>
<text class="t" x="339.2" y="1160.12" text-anchor="middle" font-size="12">24</text>
<line class="s" x1="352.7" y1="1163.5" x2="401.7" y2="1163.5"/>
<polygon class="a" points="352.7,1163.5 361.7,1161 361.7,1166"/>
<polygon class="a" points="401.7,1163.5 392.7,1166 392.7,1161"/>
<text class="t" x="377" y="1160.12" text-anchor="middle" font-size="12">36</text>
<text class="t" x="741.5" y="790.54" text-anchor="middle" font-size="14">Y</text>
<text class="t" x="741.5" y="1184.04" text-anchor="middle" font-size="14">Y</text>
<text class="t" x="594" y="990.54" text-anchor="middle" font-size="14">X</text>
<text class="t" x="882.9" y="990.54" text-anchor="middle" font-size="14">X</text>
<path class="s" d="M633,882.8 C634.95,879.35 639.75,873.23 644,870.6 C648.25,867.97 652.03,867.27 658.5,867 C664.97,866.73 670.72,868.5 682.8,869 C694.88,869.5 714.8,869.75 731,870 C747.2,870.25 767.83,870.5 780,870.5 C792.17,870.5 797.55,869.58 804,870 C810.45,870.42 815.43,871.07 818.7,873 C821.97,874.93 822.58,878.15 823.6,881.6 C824.62,885.05 824,886.83 824.8,893.7 C825.6,900.57 826.58,914.75 828.4,922.8 C830.22,930.85 833.67,935.97 835.7,942 C837.73,948.03 839.58,951.67 840.6,959 C841.62,966.33 841.8,978.33 841.8,986 C841.8,993.67 840.4,996.92 840.6,1005 C840.8,1013.08 843.82,1025.55 843,1034.5 C842.18,1043.45 837.72,1050.62 835.7,1058.7 C833.68,1066.78 832.52,1075.3 830.9,1083 C829.28,1090.7 828.03,1100.23 826,1104.9 C823.97,1109.57 826.37,1109.18 818.7,1111 C811.03,1112.82 794.55,1114.8 780,1115.8 C765.45,1116.8 746.4,1116.8 731.4,1117 C716.4,1117.2 700.57,1117.62 690,1117 C679.43,1116.38 673.67,1114.13 668,1113.3 C662.33,1112.47 661.67,1115.43 656,1112 C650.33,1108.57 638.23,1099.97 634,1092.7 C629.77,1085.43 631.17,1076.52 630.6,1068.4 C630.03,1060.28 631,1052.07 630.6,1044 C630.2,1035.93 628.6,1028.07 628.2,1020 C627.8,1011.93 628.4,1004.52 628.2,995.6 C628,986.68 627,975.4 627,966.5 C627,957.6 627.4,951.12 628.2,942.2 C629,933.28 631.12,921.48 631.8,913 C632.48,904.52 632.1,896.33 632.3,891.3 C632.5,886.27 631.05,886.25 633,882.8Z"/>
<path class="dd" d="M684.8,833.7 H709.4 V868 H689.8 Q684.8,868 684.8,863 Z"/>
<path class="dd" d="M684.8,1156.6 H709.4 V1122 H689.8 Q684.8,1122 684.8,1127 Z"/>
<circle class="s" cx="697.1" cy="851.4" r="5.6"/>
<line class="s" x1="689" y1="851.5" x2="705.2" y2="851.5"/>
<line class="s" x1="697.5" y1="843.3" x2="697.5" y2="859.5"/>
<circle class="s" cx="697.1" cy="1138.6" r="5.6"/>
<line class="dd" x1="689" y1="1138.5" x2="705.2" y2="1138.5"/>
<line class="dd" x1="697.5" y1="1130.5" x2="697.5" y2="1146.7"/>
<path class="dd" d="M725.5,833.7 H750.1 V868 H730.5 Q725.5,868 725.5,863 Z"/>
<path class="dd" d="M725.5,1156.6 H750.1 V1122 H730.5 Q725.5,1122 725.5,1127 Z"/>
<circle class="s" cx="737.8" cy="851.4" r="5.6"/>
<line class="s" x1="729.7" y1="851.5" x2="745.9" y2="851.5"/>
<line class="s" x1="737.5" y1="843.3" x2="737.5" y2="859.5"/>
<circle class="s" cx="737.8" cy="1138.6" r="5.6"/>
<line class="dd" x1="729.7" y1="1138.5" x2="745.9" y2="1138.5"/>
<line class="dd" x1="737.5" y1="1130.5" x2="737.5" y2="1146.7"/>
<path class="dd" d="M766.5,833.7 H791.1 V868 H771.5 Q766.5,868 766.5,863 Z"/>
<path class="dd" d="M766.5,1156.6 H791.1 V1122 H771.5 Q766.5,1122 766.5,1127 Z"/>
<circle class="s" cx="778.8" cy="851.4" r="5.6"/>
<line class="s" x1="770.7" y1="851.5" x2="786.9" y2="851.5"/>
<line class="s" x1="778.5" y1="843.3" x2="778.5" y2="859.5"/>
<circle class="s" cx="778.8" cy="1138.6" r="5.6"/>
<line class="dd" x1="770.7" y1="1138.5" x2="786.9" y2="1138.5"/>
<line class="dd" x1="778.5" y1="1130.5" x2="778.5" y2="1146.7"/>
<line class="s" x1="697.5" y1="816" x2="697.5" y2="851.4"/>
<line class="s" x1="778.5" y1="816" x2="778.5" y2="851.4"/>
<line class="s" x1="737.5" y1="826" x2="737.5" y2="851.4"/>
<line class="s" x1="697.1" y1="823.5" x2="778.8" y2="823.5"/>
<polygon class="a" points="697.1,823.4 706.1,820.9 706.1,825.9"/>
<polygon class="a" points="778.8,823.4 769.8,825.9 769.8,820.9"/>
<text class="t" x="737.8" y="820.32" text-anchor="middle" font-size="12">70</text>
<rect class="s" x="674.5" y="873.5" width="129" height="58"/>
<rect class="s" x="674.5" y="1049.5" width="129" height="58"/>
<line class="d" x1="738.5" y1="842" x2="738.5" y2="1115"/>
<line class="s" x1="655" y1="873.5" x2="674.5" y2="873.5"/>
<line class="s" x1="641" y1="931.5" x2="674.5" y2="931.5"/>
<line class="s" x1="660.5" y1="873.2" x2="660.5" y2="931.2"/>
<polygon class="a" points="660.1,873.2 662.6,882.2 657.6,882.2"/>
<polygon class="a" points="660.1,931.2 657.6,922.2 662.6,922.2"/>
<text class="t" transform="translate(650.8,903.6) rotate(-90)" x="0" y="4.32" text-anchor="middle" font-size="12">632(min)</text>
<line class="s" x1="674.5" y1="931.2" x2="674.5" y2="950"/>
<line class="s" x1="803.5" y1="931.2" x2="803.5" y2="950"/>
<line class="s" x1="674.5" y1="946.5" x2="803.6" y2="946.5"/>
<polygon class="a" points="674.5,946.4 683.5,943.9 683.5,948.9"/>
<polygon class="a" points="803.6,946.4 794.6,948.9 794.6,943.9"/>
<text class="t" x="739" y="943.02" text-anchor="middle" font-size="12">107(min)</text>
<circle class="s" cx="697.4" cy="966.6" r="4.2"/>
<line class="s" x1="690.4" y1="966.5" x2="704.4" y2="966.5"/>
<line class="s" x1="697.5" y1="959.6" x2="697.5" y2="973.6"/>
<circle class="s" cx="779.4" cy="966.6" r="4.2"/>
<line class="s" x1="772.4" y1="966.5" x2="786.4" y2="966.5"/>
<line class="s" x1="779.5" y1="959.6" x2="779.5" y2="973.6"/>
<circle class="s" cx="697.4" cy="1021.2" r="4.2"/>
<line class="s" x1="690.4" y1="1021.5" x2="704.4" y2="1021.5"/>
<line class="s" x1="697.5" y1="1014.2" x2="697.5" y2="1028.2"/>
<circle class="s" cx="779.4" cy="1021.2" r="4.2"/>
<line class="s" x1="772.4" y1="1021.5" x2="786.4" y2="1021.5"/>
<line class="s" x1="779.5" y1="1014.2" x2="779.5" y2="1028.2"/>
<line class="s" x1="697.5" y1="966.6" x2="697.5" y2="984"/>
<line class="s" x1="779.5" y1="966.6" x2="779.5" y2="984"/>
<line class="s" x1="697.4" y1="979.5" x2="779.4" y2="979.5"/>
<polygon class="a" points="697.4,979.7 706.4,977.2 706.4,982.2"/>
<polygon class="a" points="779.4,979.7 770.4,982.2 770.4,977.2"/>
<text class="t" x="741.5" y="975.62" text-anchor="middle" font-size="12">70</text>
<line class="d" x1="679.4" y1="985.5" x2="817.6" y2="985.5"/>
<line class="s" x1="654.6" y1="966.5" x2="690" y2="966.5"/>
<line class="s" x1="654.6" y1="1021.5" x2="690" y2="1021.5"/>
<line class="s" x1="663.5" y1="966.6" x2="663.5" y2="1021.2"/>
<polygon class="a" points="663.3,966.6 665.8,975.6 660.8,975.6"/>
<polygon class="a" points="663.3,1021.2 660.8,1012.2 665.8,1012.2"/>
<text class="t" transform="translate(656.1,994.2) rotate(-90)" x="0" y="4.32" text-anchor="middle" font-size="12">54</text>
<line class="s" x1="640.6" y1="1041.5" x2="674.7" y2="1041.5"/>
<line class="s" x1="645.5" y1="931.2" x2="645.5" y2="1041.4"/>
<polygon class="a" points="645.2,931.2 647.7,940.2 642.7,940.2"/>
<polygon class="a" points="645.2,1041.4 642.7,1032.4 647.7,1032.4"/>
<text class="t" transform="translate(638.8,985.5) rotate(-90)" x="0" y="4.32" text-anchor="middle" font-size="12">94(max)</text>
<text class="t" x="806.8" y="1004.12" text-anchor="middle" font-size="12">4-Φ6.5</text>
<line class="s" x1="788.8" y1="1006.5" x2="825.4" y2="1006.5"/>
<line class="s" x1="788.8" y1="1006.6" x2="772.6" y2="1033"/>
<polygon class="a" points="781.6,1017.6 783.3,1010.43 787.22,1012.83"/>
<polygon class="a" points="777.2,1024.8 775.5,1031.97 771.58,1029.57"/>
</svg>
</body>
</html>
